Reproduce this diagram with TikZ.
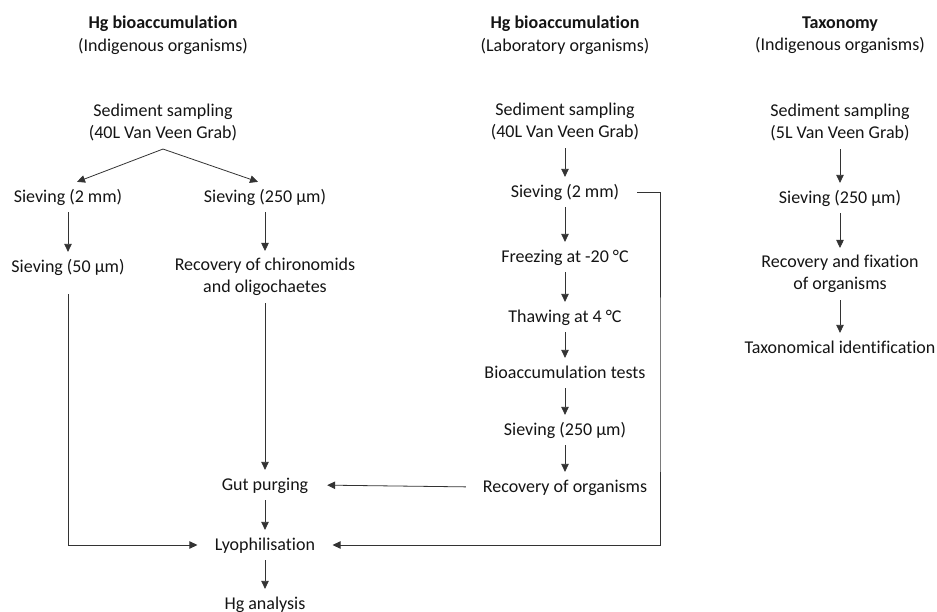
\documentclass[tikz,border=0pt]{standalone}
\usepackage{fontspec}
\setmainfont{Carlito}[Ligatures=NoCommon]
\usepackage{xcolor}
\usetikzlibrary{arrows.meta}

\tikzset{
  stage/.style={align=center, inner sep=4pt, outer sep=3pt, text=black!92,
    font=\fontsize{18}{22.5}\selectfont,
    execute at begin node={\vphantom{(}}, execute at end node={\vphantom{(g}}},
  flow/.style={draw=black!80, line width=0.8pt, -{Triangle[length=8pt,width=7.5pt]}}
}

\begin{document}
\begin{tikzpicture}[x=1pt,y=1pt,yscale=-1]
\useasboundingbox (0,0) rectangle (937,612);

% Headers
\node[stage] (hd1) at (163,35) {\textbf{Hg bioaccumulation}\\(Indigenous organisms)};
\node[stage] (hd2) at (565,35) {\textbf{Hg bioaccumulation}\\(Laboratory organisms)};
\node[stage] (hd3) at (840,35) {\textbf{Taxonomy}\\(Indigenous organisms)};

% Indigenous organisms, Hg
\node[stage] (sed1) at (163,123) {Sediment sampling\\(40L Van Veen Grab)};
\node[stage] (sv2a) at (68,197) {Sieving (2 mm)};
\node[stage] (sv250a) at (265,197) {Sieving (250 µm)};
\node[stage] (sv50) at (68,267) {Sieving (50 µm)};
\node[stage] (rec1) at (265,277) {Recovery of chironomids\\and oligochaetes};
\node[stage] (gut) at (265,485) {Gut purging};
\node[stage] (lyo) at (265,545) {Lyophilisation};
\node[stage] (hg) at (265,604) {Hg analysis};

% Laboratory organisms, Hg
\node[stage] (sed2) at (565,122) {Sediment sampling\\(40L Van Veen Grab)};
\node[stage] (sv2b) at (565,192) {Sieving (2 mm)};
\node[stage] (frz) at (565,257) {Freezing at -20 °C};
\node[stage] (thaw) at (565,317) {Thawing at 4 °C};
\node[stage] (bio) at (565,373) {Bioaccumulation tests};
\node[stage] (sv250b) at (565,430) {Sieving (250 µm)};
\node[stage] (recb) at (565,487) {Recovery of organisms};

% Taxonomy
\node[stage] (sed3) at (840,123) {Sediment sampling\\(5L Van Veen Grab)};
\node[stage] (sv250c) at (840,198) {Sieving (250 µm)};
\node[stage] (rec3) at (840,274) {Recovery and fixation\\of organisms};
\node[stage] (tax) at (840,348) {Taxonomical identification};

\coordinate (fork) at (sed1.south);
\coordinate (rt) at (660,400);

%Straight Lines
\draw[flow] (fork) -- ([xshift=9pt]sv2a.north);
\draw[flow] (fork) -- ([xshift=-7pt]sv250a.north);
\draw[flow] (sv2a) -- (sv50);
\draw[flow] (sv250a) -- (rec1);
\draw[flow] (rec1) -- (gut);
\draw[flow] (gut) -- (lyo);
\draw[flow] (lyo) -- (hg);
\draw[flow, shorten <=12pt, shorten >=10.5pt] (sv50.south) |- (lyo.west);

\draw[flow] (sed2) -- (sv2b);
\draw[flow] (sv2b) -- (frz);
\draw[flow] (frz) -- (thaw);
\draw[flow] (thaw) -- (bio);
\draw[flow] (bio) -- (sv250b);
\draw[flow] (sv250b) -- (recb);
\draw[flow, shorten <=10pt, shorten >=12pt] (recb.west) -- (gut.east);
\draw[flow, shorten <=11pt, shorten >=10.5pt] (sv2b.east) -| (rt) |- (lyo.east);

\draw[flow] (sed3) -- (sv250c);
\draw[flow] (sv250c) -- (rec3);
\draw[flow] (rec3) -- (tax);

\end{tikzpicture}
\end{document}
